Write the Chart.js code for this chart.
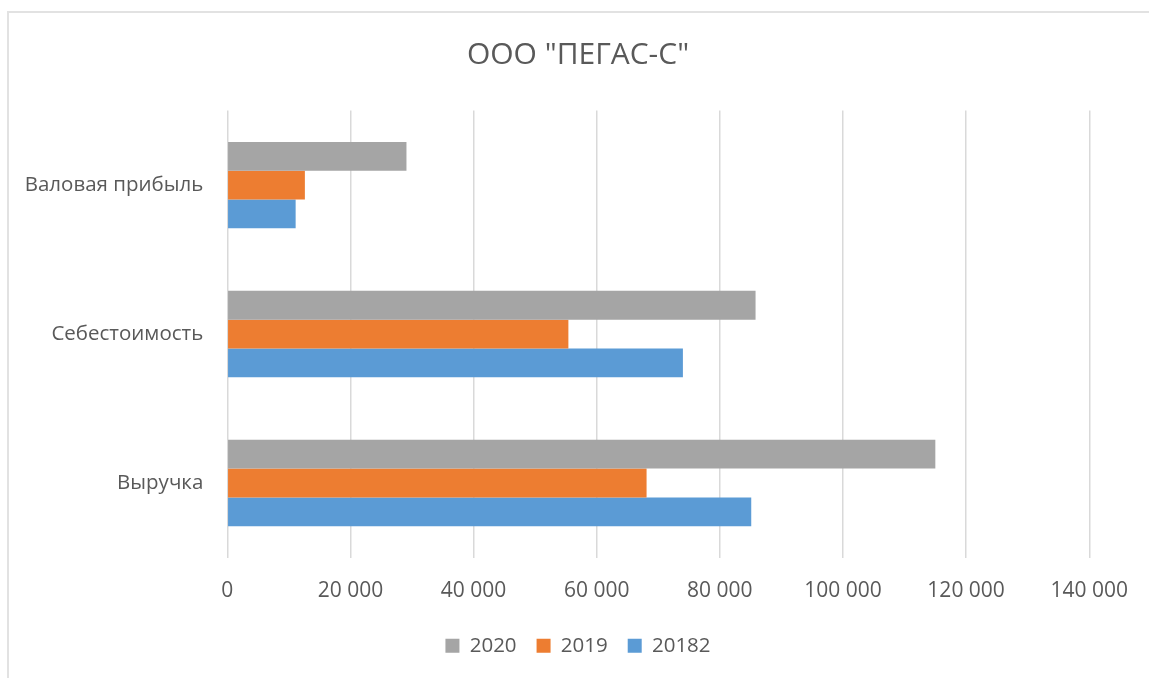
<!DOCTYPE html>
<html>
<head>
<meta charset="utf-8">
<script src="https://cdn.jsdelivr.net/npm/chart.js@4.4.1/dist/chart.umd.min.js"></script>
<style>
  html, body { margin: 0; padding: 0; background: #ffffff; overflow: hidden; }
  #frame { position: absolute; left: 7px; top: 11px; width: 1170px; height: 700px; border: 2px solid #e2e2e2; box-sizing: border-box; }
  #c { position: absolute; left: 0; top: 0; }
</style>
</head>
<body>
<div id="frame"></div>
<canvas id="c" width="1149" height="678"></canvas>
<script>
const categories = ['Валовая прибыль', 'Себестоимость', 'Выручка'];
const seriesNames = ['2020', '2019', '20182'];
const values2020 = [29100, 85800, 115000];
const values2019 = [12600, 55400, 68100];
const values2018 = [11100, 74000, 85100];
const tickLabels = ['0', '20 000', '40 000', '60 000', '80 000', '100 000', '120 000', '140 000'];
const seriesColors = ['#A5A5A5', '#ED7D31', '#5B9BD5'];

const FONT = "'Open Sans', 'DejaVu Sans', sans-serif";
const TEXT = '#595959';

new Chart(document.getElementById('c'), {
  type: 'bar',
  data: {
    labels: categories,
    datasets: [values2020, values2019, values2018].map((vals, i) => ({
      label: seriesNames[i],
      data: vals,
      backgroundColor: seriesColors[i],
      borderWidth: 0,
      categoryPercentage: 0.58,
      barPercentage: 1.0
    }))
  },
  options: {
    indexAxis: 'y',
    responsive: false,
    animation: false,
    devicePixelRatio: 1,
    layout: { padding: { left: 7, right: 0, top: 0, bottom: 12 } },
    scales: {
      x: {
        min: 0,
        max: 140000,
        ticks: {
          stepSize: 20000,
          color: TEXT,
          font: { family: FONT, size: 21 },
          padding: 21,
          callback: (v, i) => tickLabels[i]
        },
        grid: { color: '#d9d9d9', lineWidth: 1.5, drawTicks: false },
        border: { display: false },
        afterFit: (s) => { s.height = 58; }
      },
      y: {
        ticks: {
          color: TEXT,
          font: { family: FONT, size: 20.5 },
          padding: 24
        },
        grid: { display: false, drawTicks: false },
        border: { display: false },
        afterFit: (s) => { s.width = 220.3; }
      },
      yRight: {
        type: 'category',
        position: 'right',
        ticks: { display: false },
        grid: { display: false, drawTicks: false },
        border: { display: false },
        afterFit: (s) => { s.width = 59.3; }
      }
    },
    plugins: {
      title: {
        display: true,
        text: 'ООО "ПЕГАС-С"',
        color: TEXT,
        font: { family: FONT, size: 30, weight: 'normal' },
        padding: { top: 37, bottom: 37.6 }
      },
      legend: {
        position: 'bottom',
        labels: {
          color: TEXT,
          font: { family: FONT, size: 20.5 },
          boxWidth: 14,
          boxHeight: 14,
          padding: 20
        }
      },
      tooltip: { enabled: false }
    }
  }
});
</script>
</body>
</html>
